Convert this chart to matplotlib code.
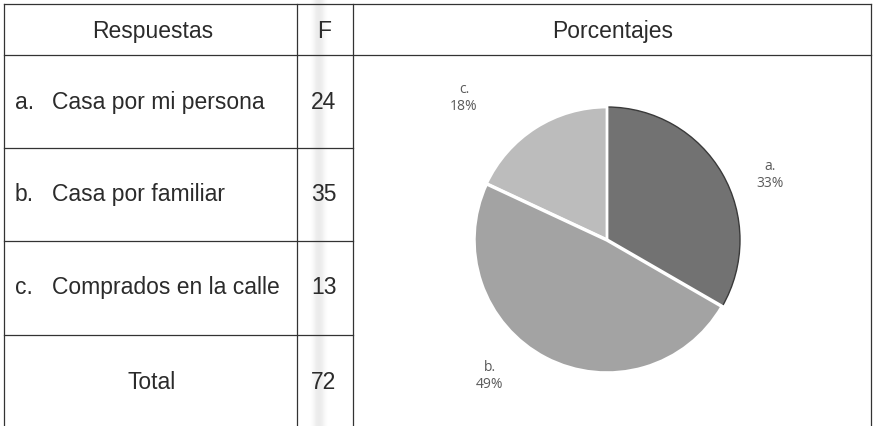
import matplotlib.pyplot as plt
import numpy as np

# Tabla de respuestas y frecuencias
header = ['Respuestas', 'F', 'Porcentajes']
letters = ['a.', 'b.', 'c.']
answers = ['Casa por mi persona', 'Casa por familiar', 'Comprados en la calle']
freqs = [24, 35, 13]
total_label = 'Total'
pct_labels = ['33%', '49%', '18%']
slice_colors = ['#727272', '#a3a3a3', '#bcbcbc']

W, H = 875, 426
fig = plt.figure(figsize=(W / 100, H / 100), dpi=100)
ax = fig.add_axes([0, 0, 1, 1])
ax.set_xlim(0, W)
ax.set_ylim(H, 0)
ax.axis('off')

# faint scanner stripe through the F column
for dx, a in zip(range(-9, 10), np.hanning(19)):
    ax.axvline(319 + dx, color='#c4c4c4', alpha=0.22 * a, lw=1.2, zorder=0)

lc = '#333333'
lw = 0.9
x_left, x_c1, x_c2, x_right = 4, 297, 353, 871
y_top, y_head = 4, 55
row_lines = [148, 241, 335]
for y in [y_top, y_head]:
    ax.plot([x_left, x_right], [y, y], color=lc, lw=lw)
for y in row_lines:
    ax.plot([x_left, x_c2], [y, y], color=lc, lw=lw)
for x in [x_left, x_c1, x_c2, x_right]:
    ax.plot([x, x], [y_top, H], color=lc, lw=lw)

fs = 16.5
font = 'Liberation Sans'
tc = '#2b2b2b'
kw = dict(va='center_baseline', fontsize=fs, family=font, color=tc)
ax.text(153, 29, header[0], ha='center', **kw)
ax.text(324, 29, header[1], ha='center', **kw)
ax.text(613, 29, header[2], ha='center', **kw)

row_y = [100, 192, 285, 380]
for i in range(3):
    ax.text(15, row_y[i], letters[i], ha='left', **kw)
    ax.text(52, row_y[i], answers[i], ha='left', **kw)
    ax.text(324, row_y[i], str(freqs[i]), ha='center', **kw)
ax.text(152, row_y[3], total_label, ha='center', **kw)
ax.text(324, row_y[3], str(sum(freqs)), ha='center', **kw)

# Pie chart, 1 unit = 1 pixel
cx, cy, half = 607, 240, 150
pax = fig.add_axes([(cx - half) / W, (H - cy - half) / H, 2 * half / W, 2 * half / H])
wedges, _ = pax.pie(freqs, radius=133, startangle=90, counterclock=False,
                    colors=slice_colors,
                    wedgeprops=dict(edgecolor='white', linewidth=2))
pax.set_xlim(-half, half)
pax.set_ylim(-half, half)
pax.axis('off')
wedges[0].set_edgecolor('#3a3a3a')
wedges[0].set_linewidth(1.0)
wedges[1].set_zorder(3)
wedges[1].set_edgecolor('white')
wedges[1].set_linewidth(2.5)

lab_pos = [(770, 175), (490, 376), (464, 98)]
for (lx, ly), l, p in zip(lab_pos, letters, pct_labels):
    ax.text(lx, ly, l + '\n' + p, ha='center', va='center', fontsize=10,
            family='Open Sans', color='#5a5a5a', linespacing=1.25, zorder=5)

fig.savefig('out.png', dpi=100)
